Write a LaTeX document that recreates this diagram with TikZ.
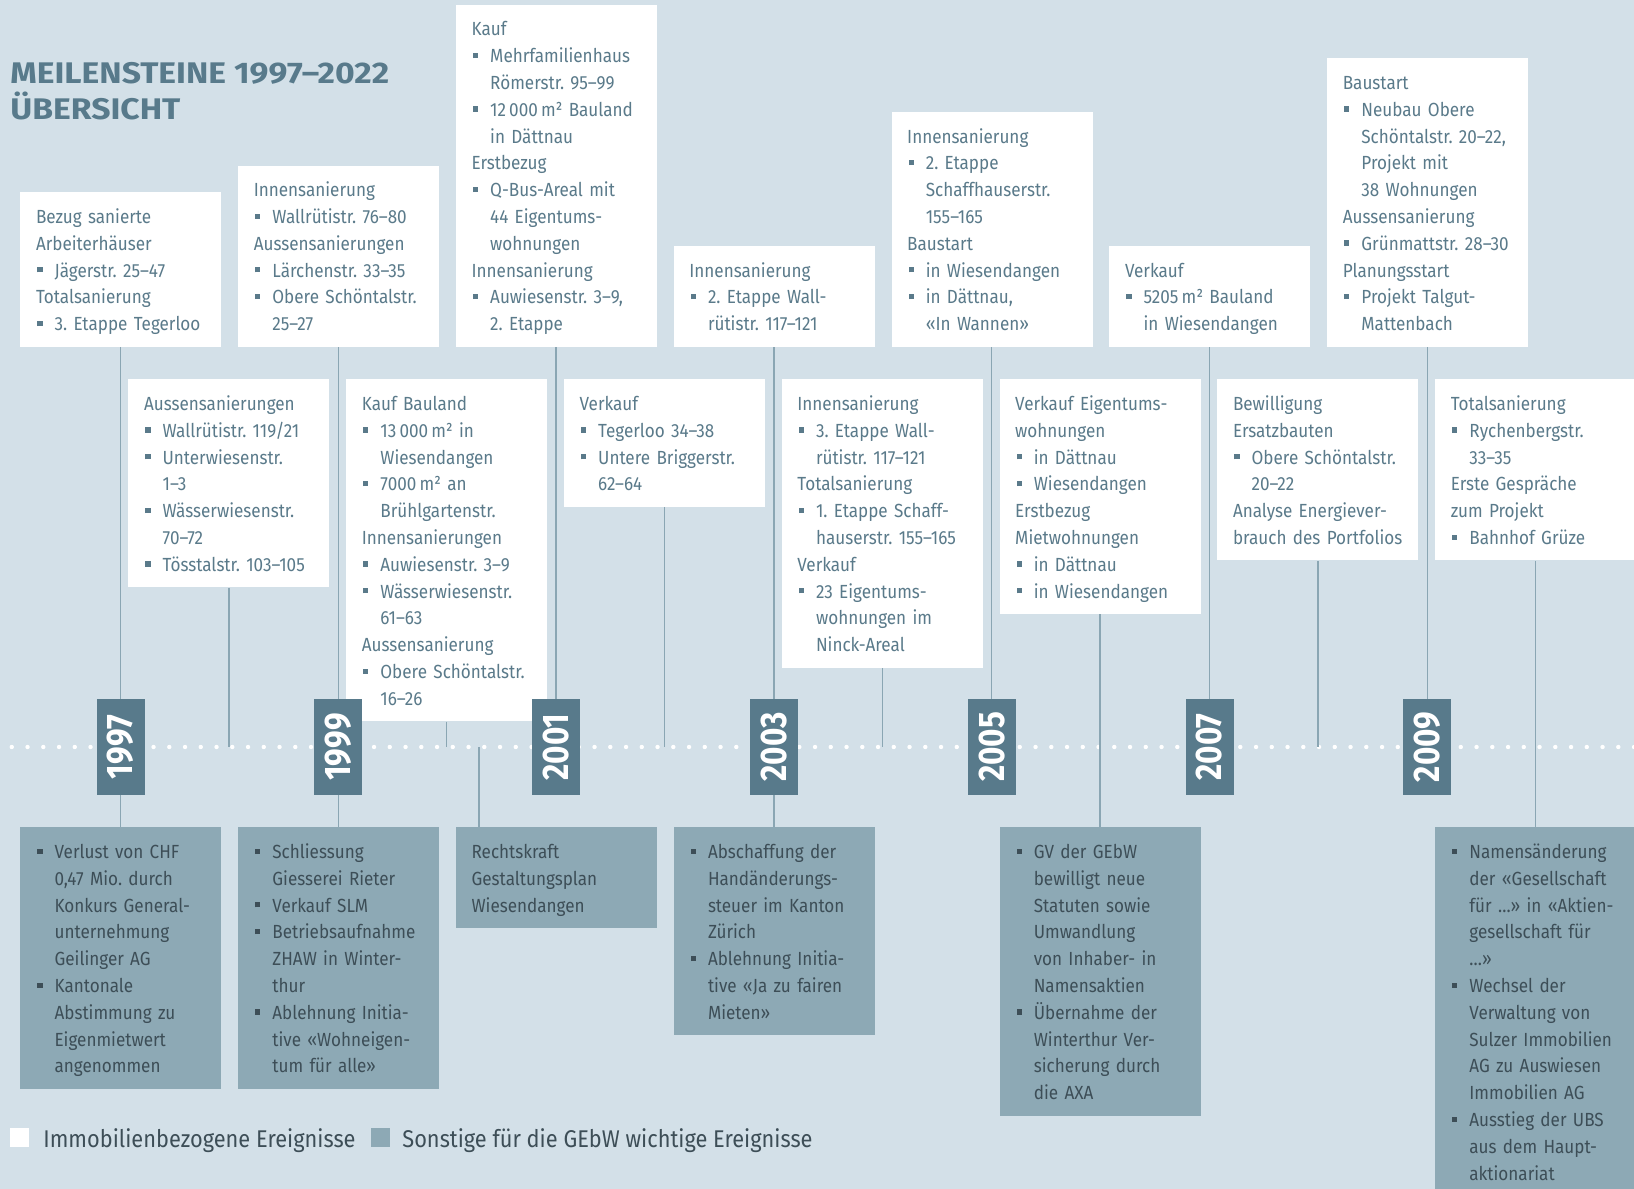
\documentclass[tikz,border=0pt]{standalone}
\usepackage{fontspec}
\setmainfont{Fira Sans}[FakeStretch=0.9]
\newfontfamily\titlefont{Fira Sans}[FakeStretch=1.13]
\newfontfamily\yearfont{Fira Sans}[FakeStretch=0.85]

\definecolor{bgCol}{HTML}{D3E0E8}
\definecolor{grayBox}{HTML}{8DA9B5}
\definecolor{yearBox}{HTML}{587A8B}
\definecolor{txtLight}{HTML}{5A7A8A}
\definecolor{txtDark}{HTML}{3D4E57}
\definecolor{linkCol}{HTML}{8AA6B3}

\pgfdeclarelayer{canvas}
\pgfdeclarelayer{axisdots}
\pgfsetlayers{canvas,axisdots,main}

% list helpers: bullet square, continuation indent, box padding struts
\newlength\bulind
\setlength\bulind{9.3pt}
\newcommand\bul{\makebox[\bulind][l]{\hspace{0.7pt}\raisebox{2.3pt}{\rule{2.6pt}{2.6pt}}}}
\newcommand\cnt{\hspace*{\bulind}}
\newcommand\topstrut{\rule{0pt}{15.5pt}}
\newcommand\botstrut{\rule[-8pt]{0pt}{8pt}}

\tikzset{
  evt/.style={fill=white, text=txtLight, inner xsep=7.8pt, inner ysep=0pt,
    text width=84.9pt, align=left, font=\fontsize{9.5}{13.4}\selectfont,
    execute at begin node=\topstrut, execute at end node=\botstrut},
  oth/.style={evt, fill=grayBox, text=txtDark},
  yearbox/.style={fill=yearBox, text=white, minimum width=24pt, minimum height=48pt,
    inner sep=0pt, font=\yearfont\bfseries\fontsize{18.5}{18.5}\selectfont},
  link/.style={draw=linkCol, line width=0.65pt},
  heading/.style={anchor=base west, inner sep=0pt, text=yearBox,
    font=\titlefont\bfseries\fontsize{14.9}{18}\selectfont},
  legendtext/.style={anchor=base west, inner sep=0pt, text=txtDark,
    font=\fontsize{12.1}{14}\selectfont},
}

\begin{document}
\frenchspacing
\begin{tikzpicture}[x=0.5pt, y=-0.5pt]
\begin{pgfonlayer}{canvas}
\fill[bgCol] (0,0) rectangle (1634,1189);
\end{pgfonlayer}
\useasboundingbox (0,0) rectangle (1634,1189);

% title
\node[heading] (title1) at (10,83) {MEILENSTEINE 1997–2022};
\node[heading] (title2) at (10,119) {ÜBERSICHT};

\coordinate (axis) at (0,747);

% ---------- upper row: property events of odd years
\node[evt, anchor=south west] (t97) at (20,347) {Bezug sanierte\\Arbeiterhäuser\\\bul Jägerstr. 25–47\\Totalsanierung\\\bul 3. Etappe Tegerloo};
\node[evt, anchor=south west] (t99) at (237.8,347) {Innensanierung\\\bul Wallrütistr. 76–80\\Aussensanierungen\\\bul Lärchenstr. 33–35\\\bul Obere Schöntalstr.\\\cnt 25–27};
\node[evt, anchor=south west] (t01) at (455.6,347) {Kauf\\\bul Mehrfamilienhaus\\\cnt Römerstr. 95–99\\\bul 12\,000\,m² Bauland\\\cnt in Dättnau\\Erstbezug\\\bul Q-Bus-Areal mit\\\cnt 44 Eigentums-\\\cnt wohnungen\\Innensanierung\\\bul Auwiesenstr. 3–9,\\\cnt 2. Etappe};
\node[evt, anchor=south west] (t03) at (673.4,347) {Innensanierung\\\bul 2. Etappe Wall-\\\cnt rütistr. 117–121};
\node[evt, anchor=south west] (t05) at (891.2,347) {Innensanierung\\\bul 2. Etappe\\\cnt Schaffhauserstr.\\\cnt 155–165\\Baustart\\\bul in Wiesendangen\\\bul in Dättnau,\\\cnt «In Wannen»};
\node[evt, anchor=south west] (t07) at (1109,347) {Verkauf\\\bul 5205\,m² Bauland\\\cnt in Wiesendangen};
\node[evt, anchor=south west] (t09) at (1326.8,347) {Baustart\\\bul Neubau Obere\\\cnt Schöntalstr. 20–22,\\\cnt Projekt mit\\\cnt 38 Wohnungen\\Aussensanierung\\\bul \mbox{Grünmattstr. 28–30}\\Planungsstart\\\bul Projekt Talgut-\\\cnt Mattenbach};

% ---------- middle row: property events of even years
\node[evt, anchor=north west] (m98) at (128,379) {Aussensanierungen\\\bul Wallrütistr. 119/21\\\bul Unterwiesenstr.\\\cnt 1–3\\\bul Wässerwiesenstr.\\\cnt 70–72\\\bul Tösstalstr. 103–105};
\node[evt, anchor=north west] (m00) at (345.8,379) {Kauf Bauland\\\bul 13\,000\,m² in\\\cnt Wiesendangen\\\bul 7000\,m² an\\\cnt Brühlgartenstr.\\Innensanierungen\\\bul Auwiesenstr. 3–9\\\bul Wässerwiesenstr.\\\cnt 61–63\\Aussensanierung\\\bul Obere Schöntalstr.\\\cnt 16–26};
\node[evt, anchor=north west] (m02) at (563.6,379) {Verkauf\\\bul Tegerloo 34–38\\\bul Untere Briggerstr.\\\cnt 62–64};
\node[evt, anchor=north west] (m04) at (781.4,379) {Innensanierung\\\bul 3. Etappe Wall-\\\cnt rütistr. 117–121\\Totalsanierung\\\bul 1. Etappe Schaff-\\\cnt hauserstr. 155–165\\Verkauf\\\bul 23 Eigentums-\\\cnt wohnungen im\\\cnt Ninck-Areal};
\node[evt, anchor=north west] (m06) at (999.2,379) {Verkauf Eigentums-\\wohnungen\\\bul in Dättnau\\\bul Wiesendangen\\Erstbezug\\Mietwohnungen\\\bul in Dättnau\\\bul in Wiesendangen};
\node[evt, anchor=north west] (m08) at (1217,379) {Bewilligung\\Ersatzbauten\\\bul Obere Schöntalstr.\\\cnt 20–22\\Analyse Energiever-\\brauch des Portfolios};
\node[evt, anchor=north west] (m10) at (1434.8,379) {Totalsanierung\\\bul Rychenbergstr.\\\cnt 33–35\\Erste Gespräche\\zum Projekt\\\bul Bahnhof Grüze};

% ---------- lower row: other events
\node[oth, anchor=north west] (l97) at (20,827) {\bul Verlust von CHF\\\cnt 0,47 Mio. durch\\\cnt Konkurs General-\\\cnt unternehmung\\\cnt Geilinger AG\\\bul Kantonale\\\cnt Abstimmung zu\\\cnt Eigenmietwert\\\cnt angenommen};
\node[oth, anchor=north west] (l99) at (237.8,827) {\bul Schliessung\\\cnt Giesserei Rieter\\\bul Verkauf SLM\\\bul Betriebsaufnahme\\\cnt ZHAW in Winter-\\\cnt thur\\\bul Ablehnung Initia-\\\cnt tive «Wohneigen-\\\cnt tum für alle»};
\node[oth, anchor=north west] (l00) at (455.6,827) {Rechtskraft\\Gestaltungsplan\\Wiesendangen};
\node[oth, anchor=north west] (l03) at (673.4,827) {\bul Abschaffung der\\\cnt Handänderungs-\\\cnt steuer im Kanton\\\cnt Zürich\\\bul Ablehnung Initia-\\\cnt tive «Ja zu fairen\\\cnt Mieten»};
\node[oth, anchor=north west] (l06) at (999.2,827) {\bul GV der GEbW\\\cnt bewilligt neue\\\cnt Statuten sowie\\\cnt Umwandlung\\\cnt von Inhaber- in\\\cnt Namensaktien\\\bul Übernahme der\\\cnt Winterthur Ver-\\\cnt sicherung durch\\\cnt die AXA};
\node[oth, anchor=north west] (l10) at (1434.8,827) {\bul Namensänderung\\\cnt der «Gesellschaft\\\cnt für …» in «Aktien-\\\cnt gesellschaft für\\\cnt …»\\\bul Wechsel der\\\cnt Verwaltung von\\\cnt Sulzer Immobilien\\\cnt AG zu Auswiesen\\\cnt Immobilien AG\\\bul Ausstieg der UBS\\\cnt aus dem Haupt-\\\cnt aktionariat};

% ---------- year markers on the time axis
\node[yearbox] (y97) at (120.5,747) {\rotatebox{90}{1997}};
\node[yearbox] (y99) at (338.3,747) {\rotatebox{90}{1999}};
\node[yearbox] (y01) at (556.1,747) {\rotatebox{90}{2001}};
\node[yearbox] (y03) at (773.9,747) {\rotatebox{90}{2003}};
\node[yearbox] (y05) at (991.7,747) {\rotatebox{90}{2005}};
\node[yearbox] (y07) at (1209.5,747) {\rotatebox{90}{2007}};
\node[yearbox] (y09) at (1427.3,747) {\rotatebox{90}{2009}};

% ---------- connectors
\foreach \t/\y in {t97/y97, t99/y99, t01/y01, t03/y03, t05/y05, t07/y07, t09/y09}
  \draw[link] (\t.south -| \y) -- (\y.north);
\foreach \y/\l in {y97/l97, y99/l99, y03/l03}
  \draw[link] (\y.south) -- (\y.south |- \l.north);
\foreach \m in {m98, m00, m02, m04, m08}
  \draw[link] (\m.south) -- (\m.south |- axis);
\foreach \m/\l in {m06/l06, m10/l10}
  \draw[link] (\m.south) -- (\m.south |- \l.north);
\coordinate (c00) at (479,747);
\draw[link] (c00) -- (c00 |- l00.north);

% ---------- dotted time axis, behind the year markers
\begin{pgfonlayer}{axisdots}
\foreach \i in {0,...,103}
  \fill[white] ({11.8+15.75*\i},747) circle[radius=1.1pt];
\end{pgfonlayer}

% ---------- legend
\fill[white] (10,1128) rectangle (29,1147);
\node[legendtext] (leg1) at (43,1147) {Immobilienbezogene Ereignisse};
\fill[grayBox] (371,1128) rectangle (390,1147);
\node[legendtext] (leg2) at (402,1147) {Sonstige für die GEbW wichtige Ereignisse};
\end{tikzpicture}
\end{document}
